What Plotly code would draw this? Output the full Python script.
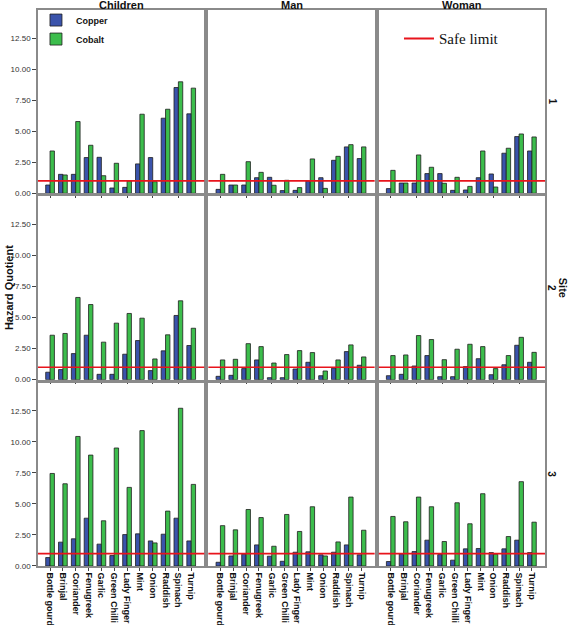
import plotly.graph_objects as go
from plotly.subplots import make_subplots

categories = ["Bottle gourd", "Brinjal", "Coriander", "Fenugreek", "Garlic", "Green Chilli",
              "Lady Finger", "Mint", "Onion", "Raddish", "Spinach", "Turnip"]
groups = ["Children", "Man", "Woman"]
sites = ["1", "2", "3"]
SAFE_LIMIT = 1.0
y_ticks = [0, 2.5, 5, 7.5, 10, 12.5]

# Site 1
cu_children_s1 = [0.67, 1.53, 1.53, 2.88, 2.90, 0.43, 0.48, 2.37, 2.88, 6.05, 8.52, 6.40]
co_children_s1 = [3.41, 1.48, 5.78, 3.87, 1.42, 2.42, 1.00, 6.37, 0.94, 6.77, 8.98, 8.47]
cu_man_s1 = [0.32, 0.67, 0.67, 1.26, 1.29, 0.22, 0.24, 1.00, 1.26, 2.66, 3.74, 2.80]
co_man_s1 = [1.53, 0.67, 2.55, 1.69, 0.65, 1.05, 0.46, 2.77, 0.40, 2.98, 3.92, 3.74]
cu_woman_s1 = [0.38, 0.83, 0.83, 1.59, 1.59, 0.24, 0.27, 1.26, 1.56, 3.23, 4.57, 3.41]
co_woman_s1 = [1.85, 0.83, 3.09, 2.10, 0.81, 1.29, 0.56, 3.41, 0.51, 3.63, 4.78, 4.54]
# Site 2
cu_children_s2 = [0.60, 0.81, 2.10, 3.58, 0.43, 0.43, 2.05, 3.15, 0.73, 2.32, 5.17, 2.75]
co_children_s2 = [3.58, 3.72, 6.62, 6.05, 3.02, 4.55, 5.33, 4.95, 1.67, 3.61, 6.35, 4.14]
cu_man_s2 = [0.27, 0.35, 0.89, 1.59, 0.16, 0.16, 0.86, 1.40, 0.32, 0.92, 2.26, 1.16]
co_man_s2 = [1.59, 1.64, 2.90, 2.66, 1.34, 2.02, 2.34, 2.18, 0.70, 1.59, 2.80, 1.83]
cu_woman_s2 = [0.32, 0.43, 1.10, 1.94, 0.24, 0.24, 1.05, 1.69, 0.40, 1.20, 2.77, 1.40]
co_woman_s2 = [1.94, 1.99, 3.55, 3.23, 1.61, 2.45, 2.85, 2.66, 0.89, 1.94, 3.41, 2.20]
# Site 3
cu_children_s3 = [0.68, 1.92, 2.19, 3.85, 1.76, 0.84, 2.53, 2.59, 2.02, 2.56, 3.85, 2.02]
co_children_s3 = [7.45, 6.62, 10.43, 8.93, 3.64, 9.50, 6.33, 10.90, 1.86, 4.42, 12.70, 6.57]
cu_man_s3 = [0.30, 0.81, 0.95, 1.70, 0.79, 0.38, 1.11, 1.14, 0.90, 1.11, 1.70, 0.90]
co_man_s3 = [3.25, 2.91, 4.55, 3.90, 1.59, 4.15, 2.78, 4.77, 0.81, 1.94, 5.55, 2.88]
cu_woman_s3 = [0.36, 0.98, 1.16, 2.08, 0.92, 0.47, 1.38, 1.41, 1.08, 1.38, 2.08, 1.08]
co_woman_s3 = [3.99, 3.56, 5.55, 4.77, 1.97, 5.09, 3.40, 5.82, 0.95, 2.37, 6.79, 3.53]

copper = [[cu_children_s1, cu_man_s1, cu_woman_s1],
          [cu_children_s2, cu_man_s2, cu_woman_s2],
          [cu_children_s3, cu_man_s3, cu_woman_s3]]
cobalt = [[co_children_s1, co_man_s1, co_woman_s1],
          [co_children_s2, co_man_s2, co_woman_s2],
          [co_children_s3, co_man_s3, co_woman_s3]]

BLUE = "#3a53ab"
GREEN = "#3cbd4c"
EDGE = "#1e1e1e"
FRAME = "#8a8a8a"
FONT = "Arial, Liberation Sans, sans-serif"

fig = make_subplots(rows=3, cols=3, horizontal_spacing=0.008, vertical_spacing=0.0054)

for r in range(3):
    for c in range(3):
        first = (r == 0 and c == 0)
        fig.add_trace(go.Bar(x=categories, y=copper[r][c], name="Copper",
                             marker=dict(color=BLUE, line=dict(color=EDGE, width=0.8)),
                             offsetgroup="cu", showlegend=first, legend="legend"),
                      row=r + 1, col=c + 1)
        fig.add_trace(go.Bar(x=categories, y=cobalt[r][c], name="Cobalt",
                             marker=dict(color=GREEN, line=dict(color=EDGE, width=0.8)),
                             offsetgroup="co", showlegend=first, legend="legend"),
                      row=r + 1, col=c + 1)
        fig.add_hline(y=SAFE_LIMIT, line=dict(color="#e8141c", width=1.6), row=r + 1, col=c + 1)

fig.add_trace(go.Scatter(x=[None], y=[None], mode="lines", name="Safe limit",
                         line=dict(color="#e8141c", width=2.2), legend="legend2", showlegend=True),
              row=1, col=3)

for r in range(1, 4):
    for c in range(1, 4):
        fig.update_xaxes(row=r, col=c, type="category", range=[-0.94, 12.02], automargin=False,
                         showline=True, mirror=True, linecolor=FRAME, linewidth=1.5,
                         showgrid=False, ticks="outside", ticklen=3, tickcolor="#444",
                         showticklabels=(r == 3), tickangle=90,
                         tickfont=dict(family=FONT, size=9, color="#111", weight="bold"))
        fig.update_yaxes(row=r, col=c, range=[0, 14.76], automargin=False,
                         showline=True, mirror=True, linecolor=FRAME, linewidth=1.5,
                         showgrid=False, zeroline=False,
                         tickvals=y_ticks, tickformat=".2f",
                         ticks="outside" if c == 1 else "", ticklen=4, tickcolor="#444",
                         showticklabels=(c == 1),
                         tickfont=dict(family=FONT, size=8, color="#333"))

annotations = []
for i, g in enumerate(groups):
    xd = fig.layout["xaxis" + ("" if i == 0 else str(i + 1))].domain
    annotations.append(dict(text="<b>%s</b>" % g, x=(xd[0] + xd[1]) / 2, y=1.009,
                            xref="paper", yref="paper", showarrow=False,
                            xanchor="center", yanchor="middle",
                            font=dict(family=FONT, size=11, color="#111")))
for i, s in enumerate(sites):
    yd = fig.layout["yaxis" + ("" if i == 0 else str(3 * i + 1))].domain
    annotations.append(dict(text="<b>%s</b>" % s, x=1.014, y=(yd[0] + yd[1]) / 2,
                            xref="paper", yref="paper", showarrow=False, textangle=90,
                            xanchor="center", yanchor="middle",
                            font=dict(family=FONT, size=10, color="#111")))
annotations.append(dict(text="<b>Site</b>", x=1.036, y=0.5, xref="paper", yref="paper",
                        showarrow=False, textangle=90, xanchor="center", yanchor="middle",
                        font=dict(family=FONT, size=11, color="#111")))
annotations.append(dict(text="<b>Hazard Quotient</b>", x=-0.057, y=0.5, xref="paper", yref="paper",
                        showarrow=False, textangle=-90, xanchor="center", yanchor="middle",
                        font=dict(family=FONT, size=11, color="#111")))

fig.update_layout(
    width=572, height=625,
    margin=dict(l=38, r=27, t=10, b=59, autoexpand=False),
    paper_bgcolor="white", plot_bgcolor="white",
    barmode="group", bargap=0.32, bargroupgap=0.0,
    font=dict(family=FONT, color="#111"),
    annotations=annotations,
    legend=dict(x=-0.004, y=1.008, xanchor="left", yanchor="top",
                bgcolor="rgba(0,0,0,0)", itemwidth=30, tracegroupgap=0,
                font=dict(family=FONT, size=9, color="#111", weight="bold")),
    legend2=dict(x=0.712, y=0.978, xanchor="left", yanchor="top",
                 bgcolor="rgba(0,0,0,0)", itemwidth=30,
                 font=dict(family="Times New Roman, Liberation Serif, serif", size=15, color="#111")),
)

fig.write_html("out.html", config={"displayModeBar": False},
               post_script="document.body.style.margin='0';document.body.style.overflow='hidden';")
